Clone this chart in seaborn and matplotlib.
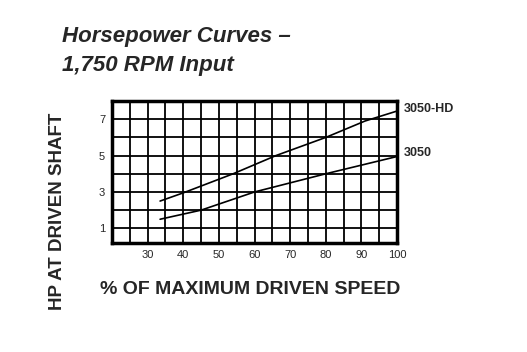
import matplotlib.pyplot as plt
import pandas as pd
import seaborn as sns

# values
speed_hd = [33.5, 40, 54, 66, 80, 91, 100]
hp_hd = [2.5, 2.95, 4.0, 5.0, 6.0, 6.9, 7.45]
speed_std = [33.5, 45, 60, 80, 100]
hp_std = [1.5, 2.0, 3.0, 4.0, 4.95]
series_names = ['3050-HD', '3050']
label_y = [7.56, 5.14]
x_ticks = list(range(20, 101, 5))
x_labels = ['' if (t % 10 or t == 20) else str(t) for t in x_ticks]
y_ticks = list(range(1, 8))
y_labels = [str(t) if t % 2 else '' for t in y_ticks]

FONT = ['Liberation Sans', 'DejaVu Sans']


def main():
    df = pd.concat([
        pd.DataFrame({'speed': speed_hd, 'hp': hp_hd, 'model': series_names[0]}),
        pd.DataFrame({'speed': speed_std, 'hp': hp_std, 'model': series_names[1]}),
    ])

    sns.set_style('white')
    plt.rcParams['font.family'] = FONT

    fig = plt.figure(figsize=(5.27, 3.52), dpi=100)
    ax = fig.add_axes([0.2125, 0.31, 0.541, 0.403])
    sns.lineplot(
        x='speed', y='hp', data=df, hue='model', hue_order=series_names,
        palette=['black', 'black'], legend=False, linewidth=1.2, ax=ax,
    )
    ax.set_xlim(20, 100)
    ax.set_ylim(0.2, 8)
    ax.set_xticks(x_ticks)
    ax.set_xticklabels(x_labels)
    ax.set_yticks(y_ticks)
    ax.set_yticklabels(y_labels)
    ax.tick_params(length=0, labelsize=8, pad=5)
    ax.grid(True, color='black', linewidth=1.3)
    for s in ax.spines.values():
        s.set_color('black')
        s.set_linewidth(2.5)
    ax.set_xlabel('')
    ax.set_ylabel('')

    # series labels at the right end of the curves
    for name, yy in zip(series_names, label_y):
        ax.text(102, yy, name, fontsize=9, fontweight='bold',
                va='center', ha='left')

    fig.text(62 / 527, 1 - 42 / 352, 'Horsepower Curves –', fontsize=16,
             fontweight='bold', style='italic', ha='left', va='baseline')
    fig.text(62 / 527, 1 - 71 / 352, '1,750 RPM Input', fontsize=16,
             fontweight='bold', style='italic', ha='left', va='baseline')
    fig.text(58 / 527, 1 - 211 / 352, 'HP AT DRIVEN SHAFT', fontsize=13.5,
             fontweight='bold', rotation=90, ha='center', va='center')
    fig.text(100 / 527, 1 - 289 / 352, '% OF MAXIMUM DRIVEN SPEED', fontsize=14,
             fontweight='bold', ha='left', va='center')

    fig.savefig('out.png', dpi=100)
    plt.close(fig)


if __name__ == '__main__':
    main()
